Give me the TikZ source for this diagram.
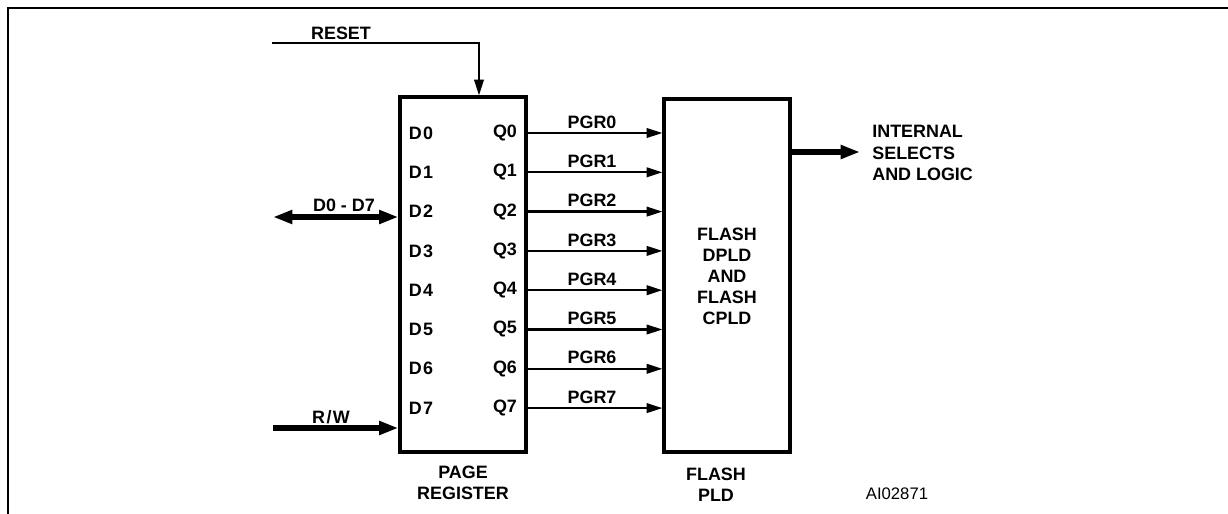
\documentclass[tikz,border=0pt]{standalone}
\usepackage{fontspec}
\setmainfont{Liberation Sans}
\usetikzlibrary{arrows.meta, positioning, calc}

\tikzset{
  lbl/.style={font=\fontsize{10.2}{12}\selectfont\bfseries, inner sep=0pt},
  block/.style={draw, line width=1.8pt, minimum width=2.52cm},
  sig/.style={line width=1.3pt, -{Triangle[length=9pt, width=5.4pt]}},
  bus/.style={line width=3pt, -{Triangle[length=11pt, width=7.4pt]}}
}

\begin{document}
\begin{tikzpicture}[x=0.02cm, y=-0.02cm]
    \useasboundingbox (0,0) rectangle (1228,514);

    % Frame
    \draw[line width=1.5pt] (8,514) -- (8,8) -- (1228,8);

    % Page register
    \node[block, minimum height=7.1cm] (pagereg) at (463,274.5) {};
    \node[lbl, align=center] (pagelbl) at (463,482.5) {PAGE\\REGISTER};

    % Flash PLD
    \node[block, minimum height=7.06cm] (flash) at (727,275.5) {};
    \node[lbl, align=center] (flashtxt) at (727,276) {FLASH\\DPLD\\AND\\FLASH\\CPLD};
    \node[lbl, align=center] (flashlbl) at (716,484.5) {FLASH\\PLD};

    % Pins and page register outputs
    \foreach \i in {0,...,7} {
        \node[lbl] (d\i) at (421,133+39.3*\i) {D\kern0.8pt\i};
        \node[lbl] (q\i) at (505,133+39.3*\i) {Q\i};
        \draw[sig] (pagereg.east |- q\i) -- (flash.west |- q\i);
        \node[lbl] (pgr\i) at (592,122+39.3*\i) {PGR\i};
    }

    % Reset
    \coordinate (resetin) at (272,43);
    \node[lbl] (resetlbl) at (341,33) {RESET};
    \draw[sig] (resetin) -| (pagereg.north -| 479,0);

    % Data bus
    \coordinate (busin) at (273,217);
    \node[lbl] (buslbl) at (344,205) {D0 - D7};
    \draw[bus, {Triangle[length=11pt, width=7.4pt]}-{Triangle[length=11pt, width=7.4pt]}] (busin) -- (busin -| pagereg.west);

    % R/W
    \coordinate (rwin) at (273,428);
    \node[lbl] (rwlbl) at (331,417) {R\kern0.8pt/\kern0.8pt W};
    \draw[bus] (rwin) -- (rwin -| pagereg.west);

    % Output
    \node[lbl, align=left, anchor=west] (outlbl) at (872,153) {INTERNAL\\SELECTS\\AND LOGIC};
    \coordinate (outend) at (860,152);
    \draw[bus] (flash.east |- outend) -- (outend);

    % Figure code
    \node[font=\fontsize{9.5}{11}\selectfont, inner sep=0pt] (code) at (897,494) {AI02871};
\end{tikzpicture}
\end{document}
